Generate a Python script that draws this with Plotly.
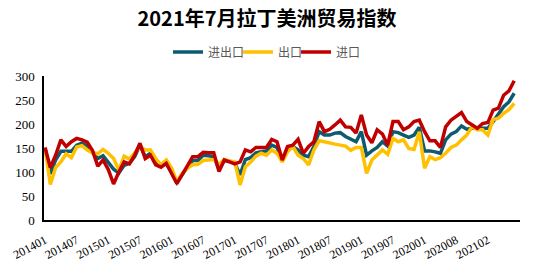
import plotly.graph_objects as go

# Categories: monthly 201401..202107 (202002 merged into 202001 in source data)
months = []
for y in range(2014, 2022):
    for m in range(1, 13):
        lab = f"{y}{m:02d}"
        if lab == "202002":
            continue
        if lab > "202107":
            break
        months.append(lab)

tick_labels = ["201401", "201407", "201501", "201507", "201601", "201607", "201701",
               "201707", "201801", "201807", "201901", "201907", "202001", "202008", "202102"]

total = [150, 96, 125, 143, 143, 143, 156, 160, 154, 142,
         128, 134, 120, 106, 98, 114, 118, 132, 156, 132,
         139, 118, 112, 119, 99, 78, 95, 110, 124, 124,
         135, 134, 132, 106, 124, 122, 118, 94, 126, 130,
         140, 142, 144, 156, 151, 125, 146, 153, 146, 135,
         132, 153, 184, 177, 177, 181, 182, 174, 169, 163,
         184, 135, 144, 151, 163, 154, 184, 182, 177, 172,
         177, 193, 144, 144, 142, 139, 167, 179, 184, 196,
         189, 191, 191, 191, 191, 205, 222, 236, 246, 264]

exports = [150, 74, 109, 121, 138, 130, 152, 155, 146, 140,
           138, 147, 139, 128, 104, 133, 127, 140, 153, 146,
           146, 128, 115, 125, 108, 80, 97, 108, 115, 116,
           124, 125, 126, 116, 126, 123, 121, 73, 111, 121,
           133, 139, 135, 146, 139, 121, 142, 153, 135, 128,
           115, 146, 165, 163, 160, 158, 156, 154, 145, 151,
           151, 97, 125, 135, 146, 137, 170, 163, 167, 149,
           147, 184, 108, 132, 126, 130, 139, 151, 156, 167,
           177, 194, 188, 188, 177, 209, 212, 222, 230, 243]

imports = [151, 109, 135, 167, 153, 163, 170, 167, 162, 145,
           112, 125, 105, 75, 100, 121, 117, 135, 160, 128,
           135, 115, 110, 118, 97, 76, 94, 112, 132, 132,
           141, 140, 140, 101, 125, 121, 117, 121, 146, 142,
           151, 151, 151, 168, 163, 125, 153, 156, 168, 139,
           153, 163, 205, 184, 189, 198, 208, 194, 193, 181,
           219, 177, 161, 188, 179, 156, 205, 205, 188, 194,
           205, 208, 184, 165, 165, 151, 194, 208, 215, 224,
           205, 198, 191, 201, 203, 229, 233, 260, 269, 290]

series = [("进出口", total, "#0E5A70", "legend"),
          ("出口", exports, "#FFC000", "legend2"),
          ("进口", imports, "#C00000", "legend3")]

fig = go.Figure()
for name, vals, col, lg in series:
    fig.add_trace(go.Scatter(x=months, y=vals, mode="lines", name=name, legend=lg,
                             line=dict(color=col, width=3.5)))

leg_common = dict(orientation="h", xanchor="left", y=1.167, yanchor="middle",
                  font=dict(family="Noto Sans CJK SC", size=12, color="#595959"),
                  itemwidth=30, bgcolor="rgba(0,0,0,0)")

fig.update_layout(
    width=534, height=267,
    margin=dict(l=44, r=14, t=76, b=47, autoexpand=False),
    paper_bgcolor="white", plot_bgcolor="white",
    title=dict(text="<b>2021年7月拉丁美洲贸易指数</b>", x=0.50, xanchor="center",
               y=0.93, yanchor="middle", xref="container", yref="container",
               font=dict(family="Noto Sans CJK SC", size=20, color="#000000")),
    legend=dict(x=0.2605, **leg_common),
    legend2=dict(x=0.4076, **leg_common),
    legend3=dict(x=0.5294, **leg_common),
    showlegend=True,
)
fig.update_xaxes(type="category", categoryorder="array", categoryarray=months,
                 range=[-0.2, len(months) - 1 + 1.1], automargin=False,
                 tickmode="array", tickvals=tick_labels, ticktext=tick_labels,
                 tickangle=-28, showgrid=False, zeroline=False,
                 showline=True, linecolor="black", linewidth=1.5, ticks="",
                 ticklabelstandoff=7,
                 tickfont=dict(family="Liberation Serif", size=12, color="#000000"))
fig.update_yaxes(range=[0, 300], tickmode="array", tickvals=[0, 50, 100, 150, 200, 250, 300],
                 automargin=False,
                 showgrid=False, zeroline=False, showline=True, linecolor="black", linewidth=1.5,
                 ticks="", ticklabelstandoff=5,
                 tickfont=dict(family="Liberation Serif", size=13, color="#000000"))

fig.write_html("out.html")
